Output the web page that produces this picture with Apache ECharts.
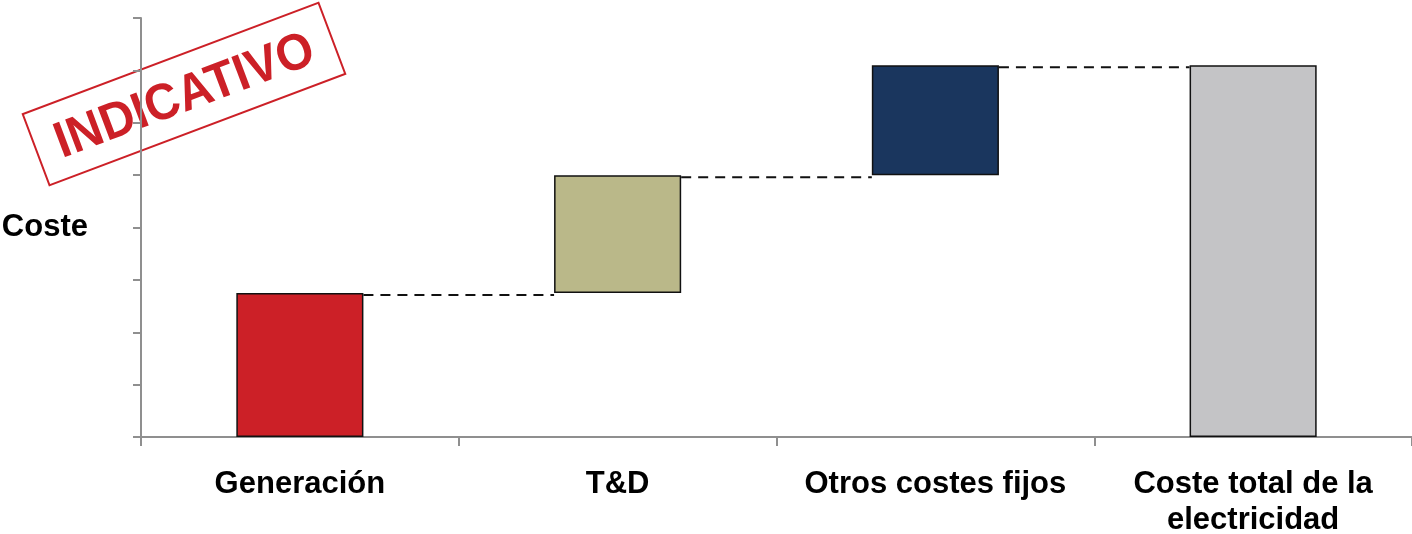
<!DOCTYPE html>
<html>
<head>
<meta charset="utf-8">
<script src="https://cdn.jsdelivr.net/npm/echarts@6/dist/echarts.min.js"></script>
<style>
  html, body { margin: 0; padding: 0; background: #fff; }
  #chart { width: 1412px; height: 534px; }
</style>
</head>
<body>
<div id="chart"></div>
<script>
const categories = ["Generación", "T&D", "Otros costes fijos", "Coste total de la\nelectricidad"];
// visible bar heights
const barValues = [2.75, 2.25, 2.1, 7.1];
// invisible base under each floating bar
const baseValues = [0, 2.75, 5.0, 0];
const barColors = ["#CC2027", "#BAB889", "#1A365E", "#C4C4C6"];

const fontFamily = '"Liberation Sans", Arial, sans-serif';

// top of each step, used for dashed connectors
const connectorData = [0, 1, 2].map((i) => [i, baseValues[i] + barValues[i]]);

const chart = echarts.init(document.getElementById("chart"));

const option = {
  animation: false,
  grid: { left: 141, right: 0, top: 18, bottom: 97, outerBoundsMode: "none", containLabel: false },
  xAxis: {
    type: "category",
    data: categories,
    axisLine: { lineStyle: { color: "#8f8f8f", width: 2 } },
    axisTick: {
      show: true,
      alignWithLabel: false,
      interval: 0,
      length: 9,
      lineStyle: { color: "#8f8f8f", width: 2 },
    },
    axisLabel: {
      interval: 0,
      margin: 29,
      color: "#000",
      fontFamily: fontFamily,
      fontWeight: "bold",
      fontSize: 31,
      lineHeight: 36,
    },
  },
  yAxis: {
    type: "value",
    min: 0,
    max: 8,
    interval: 1,
    name: "Coste",
    nameLocation: "middle",
    nameRotate: 0,
    nameGap: 53,
    nameTextStyle: {
      color: "#000",
      fontFamily: fontFamily,
      fontWeight: "bold",
      fontSize: 31,
    },
    axisLine: { show: true, lineStyle: { color: "#8f8f8f", width: 2 } },
    axisTick: { show: true, length: 8, lineStyle: { color: "#8f8f8f", width: 2 } },
    axisLabel: { show: false },
    splitLine: { show: false },
  },
  series: [
    {
      type: "bar",
      stack: "w",
      barWidth: "40%",
      silent: true,
      itemStyle: { color: "transparent", borderWidth: 0 },
      data: baseValues,
    },
    {
      type: "bar",
      stack: "w",
      barWidth: "40%",
      data: barValues.map((v, i) => ({
        value: v,
        itemStyle: { color: barColors[i] },
      })),
      itemStyle: { borderColor: "#111", borderWidth: 1.5 },
    },
    {
      type: "custom",
      data: connectorData,
      z: 5,
      renderItem: (params, api) => {
        const i = api.value(0);
        const y = api.value(1);
        const p = api.coord([i, y]);
        const q = api.coord([i + 1, y]);
        const half = (api.size([1, 0])[0] * 0.4) / 2;
        return {
          type: "line",
          shape: { x1: p[0] + half, y1: p[1] + 2, x2: q[0] - half, y2: p[1] + 2 },
          style: { stroke: "#111", lineWidth: 2, lineDash: [10, 7] },
        };
      },
    },
  ],
  graphic: [
    {
      type: "group",
      x: 184,
      y: 94,
      rotation: 0.36,
      z: 100,
      children: [
        {
          type: "rect",
          shape: { x: -158, y: -38, width: 316, height: 76 },
          style: { fill: "#fff", stroke: "#CC2027", lineWidth: 2 },
        },
        {
          type: "text",
          x: 0,
          y: 3,
          scaleX: 0.94,
          style: {
            text: "INDICATIVO",
            fill: "#CC2027",
            font: 'bold 51px "Liberation Sans", Arial, sans-serif',
            align: "center",
            verticalAlign: "middle",
          },
        },
      ],
    },
  ],
};

chart.setOption(option);
</script>
</body>
</html>
